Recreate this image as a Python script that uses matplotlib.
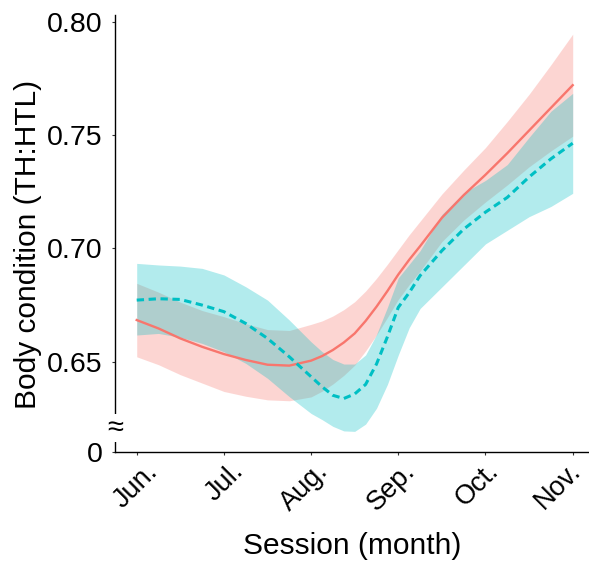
import matplotlib
matplotlib.use("Agg")
import matplotlib.pyplot as plt
from matplotlib.transforms import ScaledTranslation

plt.rcParams['font.family'] = ['Liberation Sans', 'DejaVu Sans']

# session position in months after June, fitted values and 95% bands
session_pos = [0, 0.25, 0.5, 0.75, 1, 1.25, 1.5, 1.75, 2, 2.125, 2.25, 2.375, 2.5,
               2.625, 2.75, 2.875, 3, 3.125, 3.25, 3.5, 3.75, 4, 4.25, 4.5, 4.75, 5]
month_labels = ["Jun.", "Jul.", "Aug.", "Sep.", "Oct.", "Nov."]

red_fit = [0.6684, 0.6647, 0.6603, 0.6566, 0.6534, 0.6508, 0.6487, 0.6483, 0.6505,
           0.6525, 0.6552, 0.6585, 0.6625, 0.6680, 0.6743, 0.6812, 0.6885, 0.6950,
           0.7010, 0.7135, 0.7235, 0.7325, 0.7420, 0.7520, 0.7620, 0.7720]
red_lo = [0.6522, 0.6487, 0.6443, 0.6406, 0.6369, 0.6348, 0.6332, 0.6328, 0.6345,
          0.6370, 0.6402, 0.6440, 0.6485, 0.6548, 0.6618, 0.6695, 0.6775, 0.6840,
          0.6900, 0.7030, 0.7125, 0.7205, 0.7280, 0.7360, 0.7430, 0.7495]
red_hi = [0.6846, 0.6807, 0.6763, 0.6726, 0.6699, 0.6668, 0.6642, 0.6638, 0.6665,
          0.6680, 0.6702, 0.6730, 0.6765, 0.6812, 0.6868, 0.6930, 0.6995, 0.7060,
          0.7120, 0.7240, 0.7345, 0.7445, 0.7560, 0.7680, 0.7810, 0.7945]

cyan_fit = [0.6772, 0.6778, 0.6775, 0.6750, 0.6721, 0.6669, 0.6603, 0.6522, 0.6434,
            0.6390, 0.6352, 0.6338, 0.6358, 0.6400, 0.6490, 0.6610, 0.6740, 0.6805,
            0.6880, 0.6990, 0.7085, 0.7160, 0.7225, 0.7315, 0.7395, 0.7464]
cyan_lo = [0.6618, 0.6625, 0.6608, 0.6581, 0.6544, 0.6493, 0.6427, 0.6346, 0.6272,
           0.6245, 0.6215, 0.6195, 0.6193, 0.6225, 0.6295, 0.6400, 0.6530, 0.6650,
           0.6735, 0.6830, 0.6925, 0.7020, 0.7080, 0.7140, 0.7185, 0.7243]
cyan_hi = [0.6934, 0.6927, 0.6922, 0.6912, 0.6883, 0.6831, 0.6772, 0.6684, 0.6588,
           0.6545, 0.6510, 0.6490, 0.6490, 0.6530, 0.6620, 0.6740, 0.6870, 0.6930,
           0.6990, 0.7150, 0.7245, 0.7300, 0.7370, 0.7490, 0.7605, 0.7684]

y_ticks = [0.65, 0.70, 0.75, 0.80]
y_bottom = 0.6102

RED = "#F8766D"
CYAN = "#00BFC4"

fig = plt.figure(figsize=(5.89, 5.63), dpi=100)
ax = fig.add_axes([115/589, 1 - 452/563, 1 - 115/589, 437/563])

ax.fill_between(session_pos, red_lo, red_hi, color=RED, alpha=0.3, lw=0)
ax.plot(session_pos, red_fit, color=RED, lw=1.7)
ax.fill_between(session_pos, cyan_lo, cyan_hi, color=CYAN, alpha=0.3, lw=0)
ax.plot(session_pos, cyan_fit, color=CYAN, lw=2.2, dashes=(2.4, 1.5))

ax.set_xlim(-0.249, 5.187)
ax.set_ylim(y_bottom, 0.80296)

ax.set_xticks(range(len(month_labels)))
ax.set_xticklabels(month_labels, rotation=45, ha="center", va="top")
ax.set_yticks([y_bottom] + y_ticks)
ax.set_yticklabels(["0"] + ["%.2f" % v for v in y_ticks])
ax.tick_params(axis="both", length=2.5, width=0.8, colors="#333333", labelcolor="black")
ax.tick_params(axis="y", labelsize=20.5, pad=6.5)
ax.tick_params(axis="x", labelsize=19.5, pad=2)

# nudge the slanted month labels (pixel offsets)
x_shift = [-1, 1, -7, -7, -8, -15]
for lbl, dx in zip(ax.get_xticklabels(), x_shift):
    lbl.set_transform(lbl.get_transform() +
                      ScaledTranslation(dx / 100, 0, fig.dpi_scale_trans))

for side in ("top", "right"):
    ax.spines[side].set_visible(False)
for side in ("left", "bottom"):
    ax.spines[side].set_linewidth(1.0)
    ax.spines[side].set_color("black")

# axis break marker
ax.text(-0.249, 0.6208, "\u2248", ha="center", va="center", fontsize=21,
        bbox=dict(facecolor="white", edgecolor="none", pad=0.1), clip_on=False)

ax.set_xlabel("Session (month)", fontsize=21.5)
ax.set_ylabel("Body condition (TH:HTL)", fontsize=21.5)
ax.xaxis.set_label_coords(0.5, -0.183)
ax.yaxis.set_label_coords(-0.154, 0.474)

fig.savefig("out.png", dpi=100)
